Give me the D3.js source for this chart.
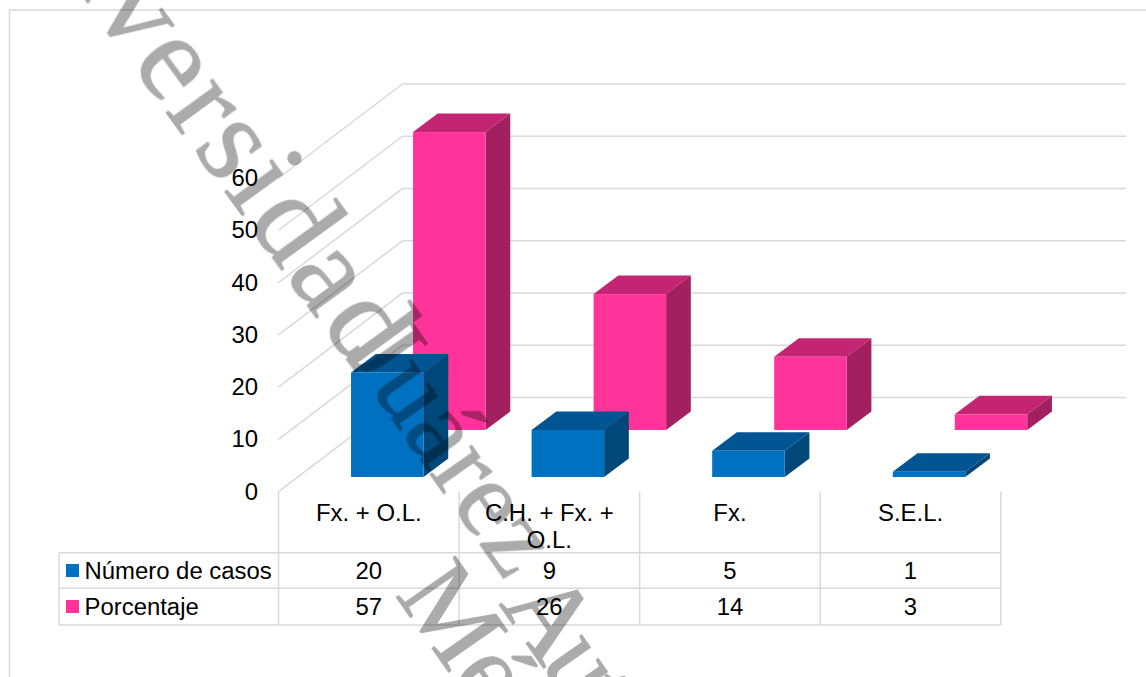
<!DOCTYPE html>
<html>
<head>
<meta charset="utf-8">
<script src="https://cdn.jsdelivr.net/npm/d3@7"></script>
<style>
html,body{margin:0;padding:0;background:#fff;overflow:hidden}
svg{display:block}
text{font-family:"Liberation Sans",Arial,sans-serif;fill:#000}
</style>
</head>
<body>
<svg id="chart" width="1146" height="677"></svg>
<script>
const categories = ["Fx. + O.L.", "C.H. + Fx. + O.L.", "Fx.", "S.E.L."];
const casos = [20, 9, 5, 1];
const porcentaje = [57, 26, 14, 3];
const yTicks = [0, 10, 20, 30, 40, 50, 60];
const seriesNames = ["Número de casos", "Porcentaje"];
const seriesColors = [
  {front:"#0070c0", top:"#005592", side:"#004879"},
  {front:"#ff3399", top:"#c32572", side:"#a32060"}
];

const svg = d3.select("#chart");
const fontPx = 23.2;
const stretch = 1.03;

// value axis, on the front edge of the floor
const y = d3.scaleLinear().domain([0, 60]).range([491.6, 178]);
const unit = y(0) - y(1);
// column bands of the data table beneath the floor
const x = d3.scaleBand().domain(categories).range([278.5, 1000.8]);
// floor depth offsets
const wall = {dx: 124, dy: -94};
const barDepth = {dx: 24.7, dy: -18.5};
const barW = 72.5;
const rows = {top: 552.7, mid: 588.3, bottom: 625};
const grey = "#d9d9d9";

// outer chart frame
svg.append("path")
  .attr("d", "M9.5,677V10H1146")
  .attr("fill", "none").attr("stroke", grey).attr("stroke-width", 1.5);

// gridlines: side wall plus back wall
const grid = svg.append("g").attr("fill", "none").attr("stroke", grey);
yTicks.forEach(t => {
  const p = d3.path();
  p.moveTo(x.range()[0], y(t));
  p.lineTo(x.range()[0] + wall.dx, y(t) + wall.dy);
  p.lineTo(1126, y(t) + wall.dy);
  grid.append("path").attr("d", p.toString()).attr("stroke-width", 1.5);
});

function label(sel, px, py, str, anchor) {
  return sel.append("text")
    .attr("transform", `translate(${px},${py}) scale(${stretch},1)`)
    .attr("text-anchor", anchor || "middle")
    .attr("font-size", fontPx)
    .text(str);
}

// value axis tick labels
yTicks.forEach(t => label(svg, 258, y(t) + 8, t, "end"));

// boxes: base offset per series relative to band centre
const serieOffsets = [
  {shiftX: 18.5, base: 477},
  {shiftX: 80.5, base: 430}
];
function box(g, cx, base, value, c) {
  const left = cx - barW / 2, right = cx + barW / 2, top = base - value * unit;
  const d = barDepth;
  g.append("polygon").attr("fill", c.top)
    .attr("points", [[left, top], [left + d.dx, top + d.dy], [right + d.dx, top + d.dy], [right, top]].join(" "));
  g.append("polygon").attr("fill", c.side)
    .attr("points", [[right, top], [right + d.dx, top + d.dy], [right + d.dx, base + d.dy], [right, base]].join(" "));
  g.append("rect").attr("x", left).attr("y", top).attr("width", barW).attr("height", base - top).attr("fill", c.front);
}
const bars = svg.append("g");
[porcentaje, casos].forEach((vals) => {
  const s = vals === casos ? 0 : 1;
  categories.forEach((cat, i) => {
    const cx = x(cat) + x.bandwidth() / 2 + serieOffsets[s].shiftX;
    box(bars, cx, serieOffsets[s].base, vals[i], seriesColors[s]);
  });
});

// data table rules
const table = svg.append("g").attr("stroke", grey).attr("stroke-width", 1.5).attr("fill", "none");
[rows.top, rows.mid, rows.bottom].forEach(r => table.append("line").attr("x1", 59).attr("x2", x.range()[1]).attr("y1", r).attr("y2", r));
table.append("line").attr("x1", 59).attr("x2", 59).attr("y1", rows.top).attr("y2", rows.bottom);
categories.forEach(c => table.append("line").attr("x1", x(c)).attr("x2", x(c)).attr("y1", y(0)).attr("y2", rows.bottom));
table.append("line").attr("x1", x.range()[1]).attr("x2", x.range()[1]).attr("y1", y(0)).attr("y2", rows.bottom);

// table text: category header
categories.forEach(c => {
  const cx = x(c) + x.bandwidth() / 2;
  if (c === "C.H. + Fx. + O.L.") {
    label(svg, cx, 520.5, "C.H. + Fx. +");
    label(svg, cx, 547.5, "O.L.");
  } else {
    label(svg, cx, 520.5, c);
  }
});

// table text: series rows with legend keys
[casos, porcentaje].forEach((vals, s) => {
  const rowY = s === 0 ? 578.5 : 614.5;
  svg.append("rect").attr("x", 66).attr("y", rowY - 14.5).attr("width", 13).attr("height", 13).attr("fill", seriesColors[s].front);
  svg.append("text").attr("transform", `translate(84.5,${rowY}) scale(${stretch},1)`).attr("font-size", fontPx).text(seriesNames[s]);
  categories.forEach((c, i) => label(svg, x(c) + x.bandwidth() / 2, rowY, vals[i]));
});

// diagonal institutional watermark, one run per word
const marks = [
  {text: "Universidad", x: -26.3, y: -152.9, size: 125, spacing: 4, turn: 54},
  {text: "Juárez", x: 345, y: 352, size: 110, spacing: 0, turn: 55},
  {text: "Autónoma", x: 498.5, y: 604, size: 110, spacing: -8, turn: 55},
  {text: "México", x: 394.5, y: 594.7, size: 110, spacing: 0, turn: 55}
];
const stamp = svg.append("g").attr("opacity", 0.33);
marks.forEach(m => stamp.append("text")
  .attr("transform", `translate(${m.x},${m.y}) rotate(${m.turn})`)
  .attr("font-size", m.size)
  .attr("letter-spacing", m.spacing)
  .attr("stroke", "#000").attr("stroke-width", 1)
  .style("font-family", '"Liberation Serif",serif')
  .text(m.text));
</script>
</body>
</html>
